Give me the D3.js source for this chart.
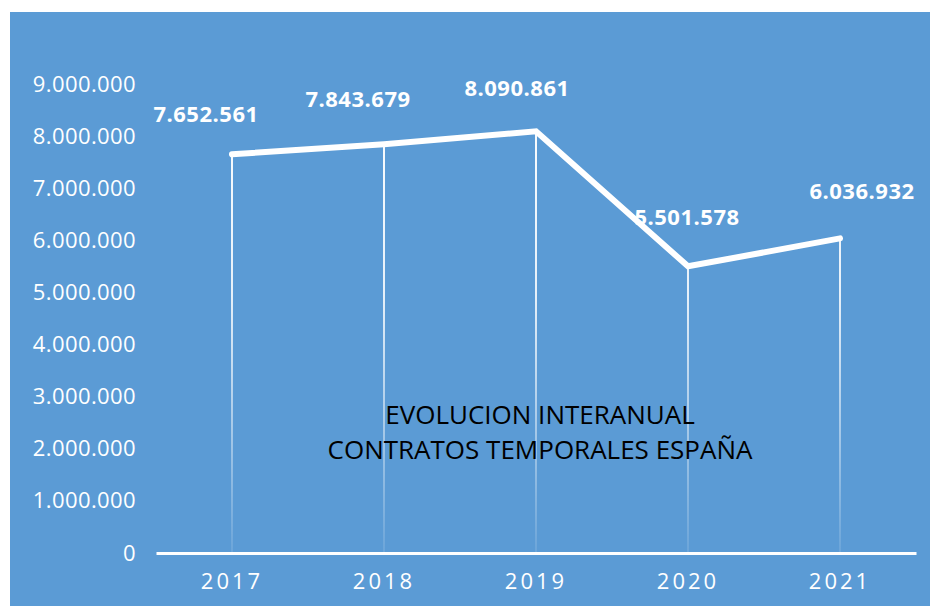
<!DOCTYPE html>
<html>
<head>
<meta charset="utf-8">
<script src="https://cdn.jsdelivr.net/npm/d3@7"></script>
<style>
  body { margin: 0; background: #fff; }
  svg { display: block; }
</style>
</head>
<body>
<svg id="canvas"></svg>
<script>
const years = ['2017', '2018', '2019', '2020', '2021']
const contracts = [7652561, 7843679, 8090861, 5501578, 6036932]
const yTicks = [0, 1000000, 2000000, 3000000, 4000000, 5000000, 6000000, 7000000, 8000000, 9000000]
const titleLines = ['EVOLUCION INTERANUAL', 'CONTRATOS TEMPORALES ESPAÑA']

let width = 930
let height = 606

// number format like 7.652.561
const fmt = d3.formatLocale({ decimal: ',', thousands: '.', grouping: [3], currency: ['', '€'] }).format(',d')

const svg = d3.select('#canvas')
    .attr('width', width)
    .attr('height', height)

svg.append('rect')
    .attr('x', 10)
    .attr('y', 12)
    .attr('width', width - 10)
    .attr('height', height - 12)
    .attr('fill', '#5b9bd5')

const data = years.map((y, i) => ({ year: y, value: contracts[i] }))

const xScale = d3.scaleBand()
    .domain(years)
    .range([156, 916])

const yScale = d3.scaleLinear()
    .domain([0, 9000000])
    .range([553, 84])

const cx = d => xScale(d.year) + xScale.bandwidth() / 2

// gradient for drop lines
const defs = svg.append('defs')
const grad = defs.append('linearGradient')
    .attr('id', 'drop')
    .attr('gradientUnits', 'userSpaceOnUse')
    .attr('x1', 0).attr('x2', 0)
    .attr('y1', yScale(9000000)).attr('y2', yScale(0))
grad.append('stop').attr('offset', '0%').attr('stop-color', '#fff').attr('stop-opacity', 1)
grad.append('stop').attr('offset', '45%').attr('stop-color', '#fff').attr('stop-opacity', 0.85)
grad.append('stop').attr('offset', '100%').attr('stop-color', '#fff').attr('stop-opacity', 0.1)

// y axis labels only
const yAxis = d3.axisLeft(yScale)
    .tickValues(yTicks)
    .tickFormat(fmt)
    .tickSize(0)
    .tickPadding(0)

svg.append('g')
    .attr('id', 'y-axis')
    .attr('transform', 'translate(136, 0)')
    .call(yAxis)
    .call(g => g.select('.domain').remove())
    .selectAll('text')
    .attr('fill', '#fff')
    .style('font-family', '"Open Sans", sans-serif')
    .style('font-size', '22px')
    .style('letter-spacing', '0.4px')

// drop lines
svg.selectAll('line.drop')
    .data(data)
    .enter()
    .append('line')
    .attr('class', 'drop')
    .attr('x1', cx)
    .attr('x2', cx)
    .attr('y1', d => yScale(d.value))
    .attr('y2', yScale(0))
    .attr('stroke', 'url(#drop)')
    .attr('stroke-width', 2)

// x axis
const xAxis = d3.axisBottom(xScale).tickSize(0).tickPadding(20)
svg.append('g')
    .attr('id', 'x-axis')
    .attr('transform', 'translate(0, ' + yScale(0) + ')')
    .call(xAxis)
    .call(g => g.select('.domain').attr('stroke', '#fff').attr('stroke-width', 3))
    .selectAll('text')
    .attr('fill', '#fff')
    .style('font-family', '"Open Sans", sans-serif')
    .style('font-size', '22px')
    .style('letter-spacing', '3px')

// the line
const line = d3.line()
    .x(cx)
    .y(d => yScale(d.value))

svg.append('path')
    .datum(data)
    .attr('d', line)
    .attr('fill', 'none')
    .attr('stroke', '#fff')
    .attr('stroke-width', 6)
    .attr('stroke-linecap', 'round')
    .attr('stroke-linejoin', 'miter')

// value labels, nudged as in the original
const labelNudge = [[-26, -41], [-26, -46], [-19, -44], [-1, -50], [22, -48]]
svg.selectAll('text.val')
    .data(data)
    .enter()
    .append('text')
    .attr('class', 'val')
    .attr('x', (d, i) => cx(d) + labelNudge[i][0])
    .attr('y', (d, i) => yScale(d.value) + labelNudge[i][1])
    .attr('text-anchor', 'middle')
    .attr('dominant-baseline', 'central')
    .attr('fill', '#fff')
    .style('font-family', '"Open Sans", sans-serif')
    .style('font-weight', 'bold')
    .style('font-size', '22px')
    .style('letter-spacing', '0.5px')
    .text(d => fmt(d.value))

// title inside plot, two separate lines
svg.selectAll('text.title')
    .data(titleLines)
    .enter()
    .append('text')
    .attr('class', 'title')
    .attr('x', 540)
    .attr('y', (d, i) => 414 + i * 35)
    .attr('text-anchor', 'middle')
    .attr('dominant-baseline', 'central')
    .style('font-family', '"Open Sans", sans-serif')
    .style('font-size', '26px')
    .attr('fill', '#000')
    .text(d => d)
</script>
</body>
</html>
